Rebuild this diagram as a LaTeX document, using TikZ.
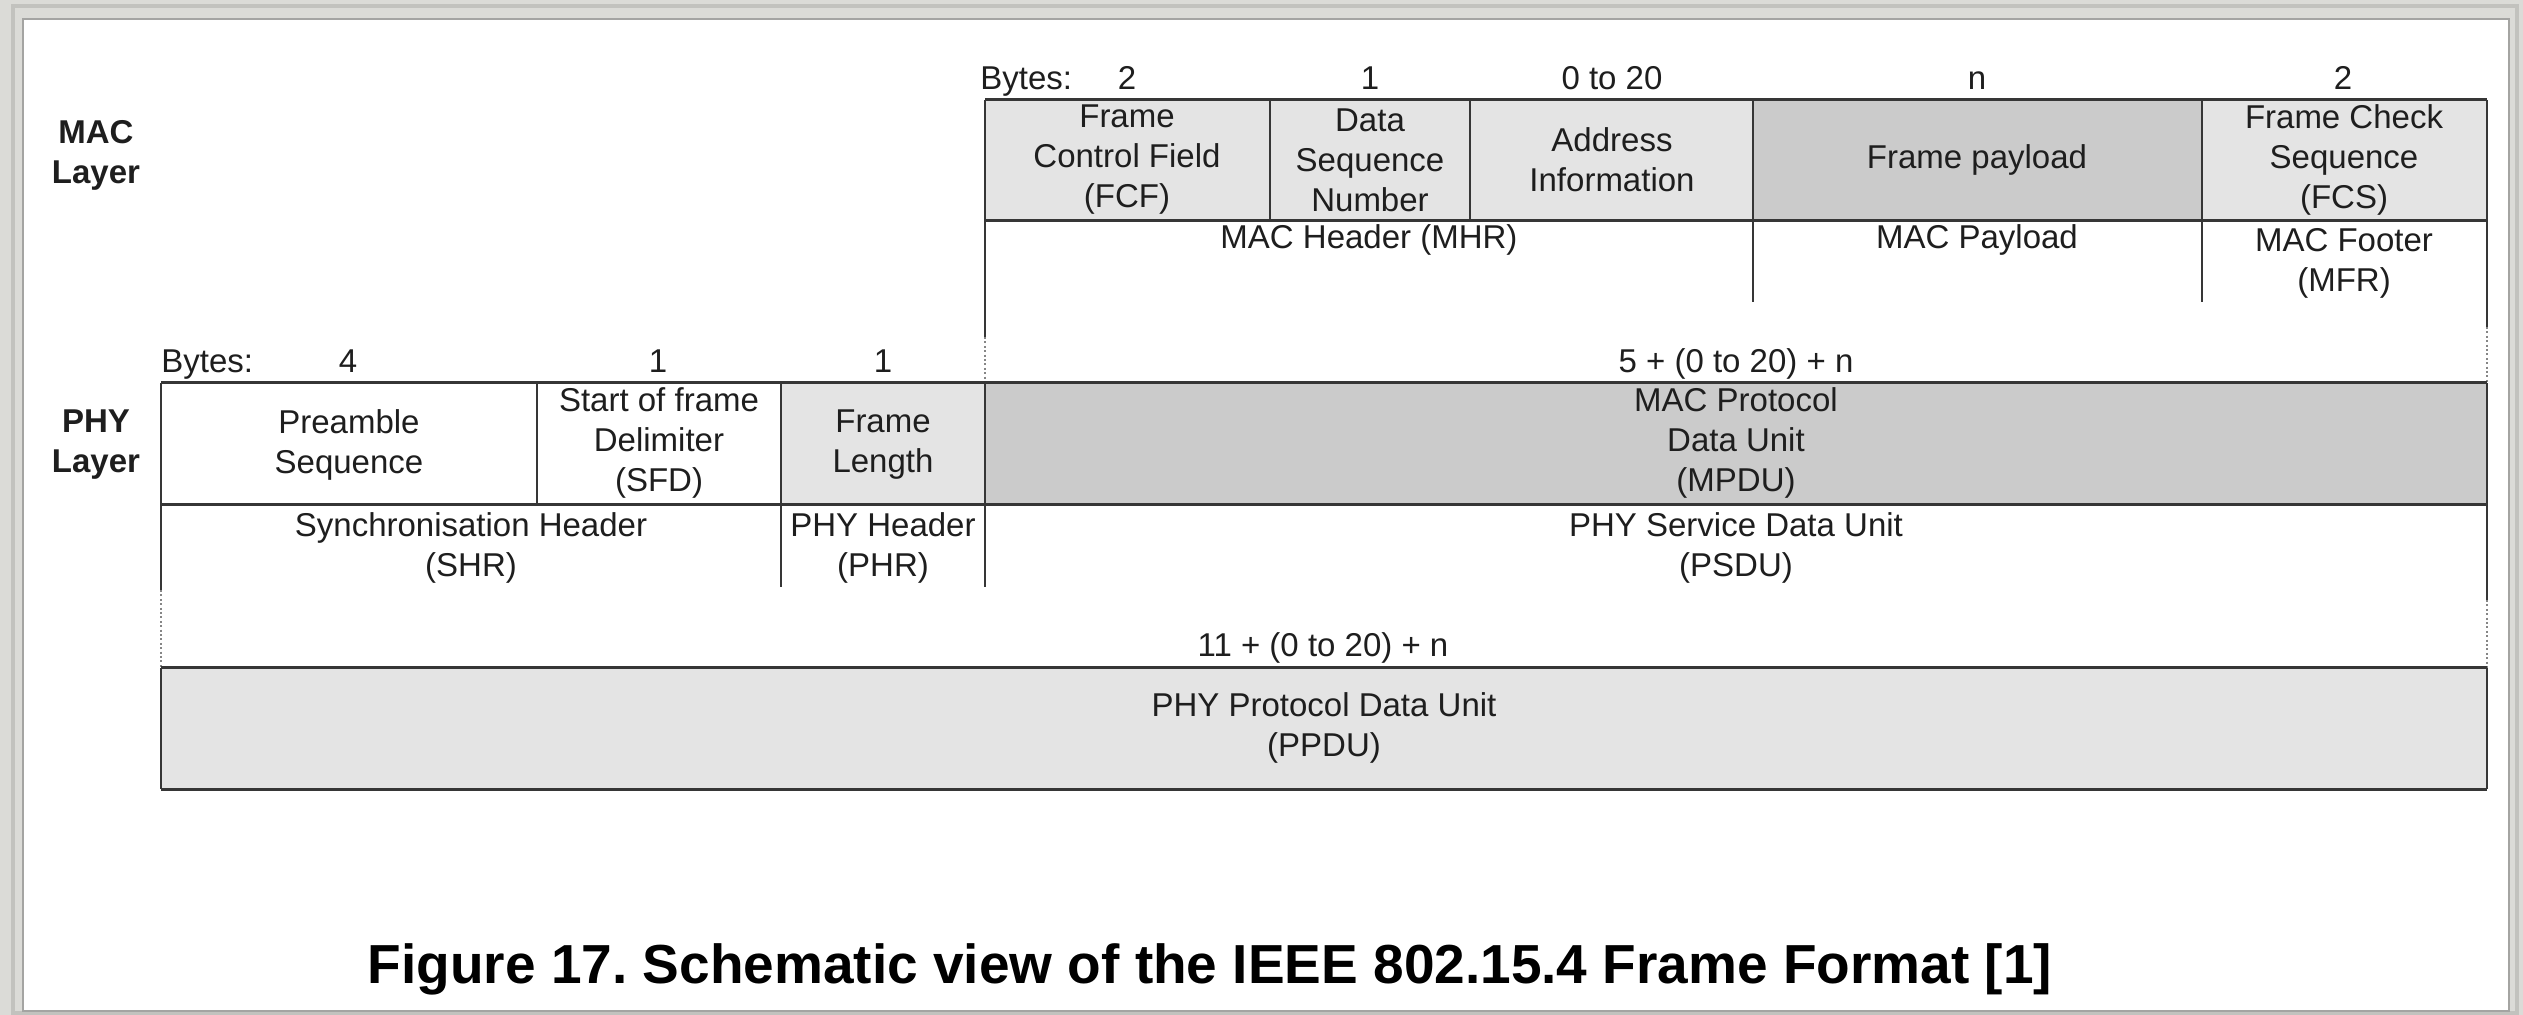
\documentclass[tikz,border=0pt]{standalone}
\usepackage{fontspec}
\setmainfont{Liberation Sans}
\definecolor{pagebg}{HTML}{DBDBD7}
\definecolor{rimout}{HTML}{C2C2BE}
\definecolor{rimin}{HTML}{A4A4A2}
\definecolor{celllight}{HTML}{E4E4E4}
\definecolor{celldark}{HTML}{CBCBCB}
\definecolor{edge}{HTML}{363636}
\definecolor{txt}{HTML}{1E1E1E}
\frenchspacing
\begin{document}
\begin{tikzpicture}[x=0.5pt,y=-0.5pt,
  lbl/.style={font=\fontsize{16.5}{20}\selectfont, text=txt, align=center, inner sep=0pt},
  bytes/.style={lbl, anchor=base},
  layer/.style={lbl, font=\fontsize{16.5}{20}\selectfont\bfseries},
  hline/.style={draw=edge, line width=1.5pt},
  vline/.style={draw=edge, line width=0.9pt},
  dotline/.style={draw=edge!60, line width=0.8pt, dash pattern=on 1pt off 1.2pt},
]
\useasboundingbox (0,0) rectangle (2523,1015);

% page frame
\fill[pagebg] (0,0) rectangle (2523,1015);
\draw[rimout, line width=1.6pt] (13,6) rectangle (2517,1013);
\fill[white] (23,19) rectangle (2509,1011);
\draw[rimin, line width=0.8pt] (23,19) rectangle (2509,1011);

% ---------- MAC layer ----------
\fill[celllight] (985,100) rectangle (1753,221);
\fill[celldark]  (1753,100) rectangle (2202,221);
\fill[celllight] (2202,100) rectangle (2487,221);

\draw[vline] (985,100) -- (985,337);
\draw[dotline] (985,337) -- (985,383);
\draw[vline] (1270,100) -- (1270,221);
\draw[vline] (1470,100) -- (1470,221);
\draw[vline] (1753,100) -- (1753,302);
\draw[vline] (2202,100) -- (2202,302);
\draw[vline] (2487,100) -- (2487,327);
\draw[dotline] (2487,327) -- (2487,383);
\draw[hline] (985,100) -- (2487,100);
\draw[hline] (985,221) -- (2487,221);

\node[layer] (maclayer) at (96,155) {MAC\\Layer};

\node[bytes, anchor=base west] (macbytes) at (980,90) {Bytes:};
\node[bytes] (macb1) at (1127,90) {2};
\node[bytes] (macb2) at (1370,90) {1};
\node[bytes] (macb3) at (1612,90) {0 to 20};
\node[bytes] (macb4) at (1977,90) {n};
\node[bytes] (macb5) at (2343,90) {2};

\node[lbl] (fcf)  at (1127,160) {Frame\\Control Field\\(FCF)};
\node[lbl] (dsn)  at (1370,160) {Data\\Sequence\\Number};
\node[lbl] (addr) at (1612,160) {Address\\Information};
\node[lbl] (pay)  at (1977,160) {Frame payload};
\node[lbl] (fcs)  at (2344,160) {Frame Check\\Sequence\\(FCS)};

\node[lbl] (mhr) at (1369,240) {MAC Header (MHR)};
\node[lbl] (mpl) at (1977,240) {MAC Payload};
\node[lbl, anchor=north] (mfr) at (2344,228) {MAC Footer\\(MFR)};

% ---------- PHY layer ----------
\fill[celllight] (781,383) rectangle (985,505);
\fill[celldark]  (985,383) rectangle (2487,505);

\draw[vline] (161,383) -- (161,590);
\draw[dotline] (161,590) -- (161,668);
\draw[vline] (537,383) -- (537,505);
\draw[vline] (781,383) -- (781,587);
\draw[vline] (985,383) -- (985,587);
\draw[vline] (2487,383) -- (2487,600);
\draw[dotline] (2487,600) -- (2487,668);
\draw[hline] (161,383) -- (2487,383);
\draw[hline] (161,505) -- (2487,505);

\node[layer] (phylayer) at (96,445) {PHY\\Layer};

\node[bytes, anchor=base west] (phybytes) at (161,373) {Bytes:};
\node[bytes] (phyb1) at (348,373) {4};
\node[bytes] (phyb2) at (658,373) {1};
\node[bytes] (phyb3) at (883,373) {1};
\node[bytes] (phyb4) at (1736,373) {5 + (0 to 20) + n};

\node[lbl] (pre)  at (349,445) {Preamble\\Sequence};
\node[lbl] (sfd)  at (659,443) {Start of frame\\Delimiter\\(SFD)};
\node[lbl] (flen) at (883,445) {Frame\\Length};
\node[lbl] (mpdu) at (1736,443) {MAC Protocol\\Data Unit\\(MPDU)};

\node[lbl, anchor=north] (shr)  at (471,512) {Synchronisation Header\\(SHR)};
\node[lbl, anchor=north] (phr)  at (883,512) {PHY Header\\(PHR)};
\node[lbl, anchor=north] (psdu) at (1736,512) {PHY Service Data Unit\\(PSDU)};

% ---------- PPDU ----------
\fill[celllight] (161,668) rectangle (2487,789);
\draw[vline] (161,668) -- (161,789);
\draw[vline] (2487,668) -- (2487,789);
\draw[hline] (161,668) -- (2487,668);
\draw[hline] (161,789) -- (2487,789);

\node[bytes] (ppdub) at (1323,657) {11 + (0 to 20) + n};
\node[lbl] (ppdu) at (1324,728) {PHY Protocol Data Unit\\(PPDU)};

% ---------- caption ----------
\node[font=\fontsize{27.5}{32}\selectfont\bfseries, text=black, inner sep=0pt, anchor=base]
  (caption) at (1210,983) {Figure 17. Schematic view of the IEEE 802.15.4 Frame Format [1]};
\end{tikzpicture}
\end{document}
